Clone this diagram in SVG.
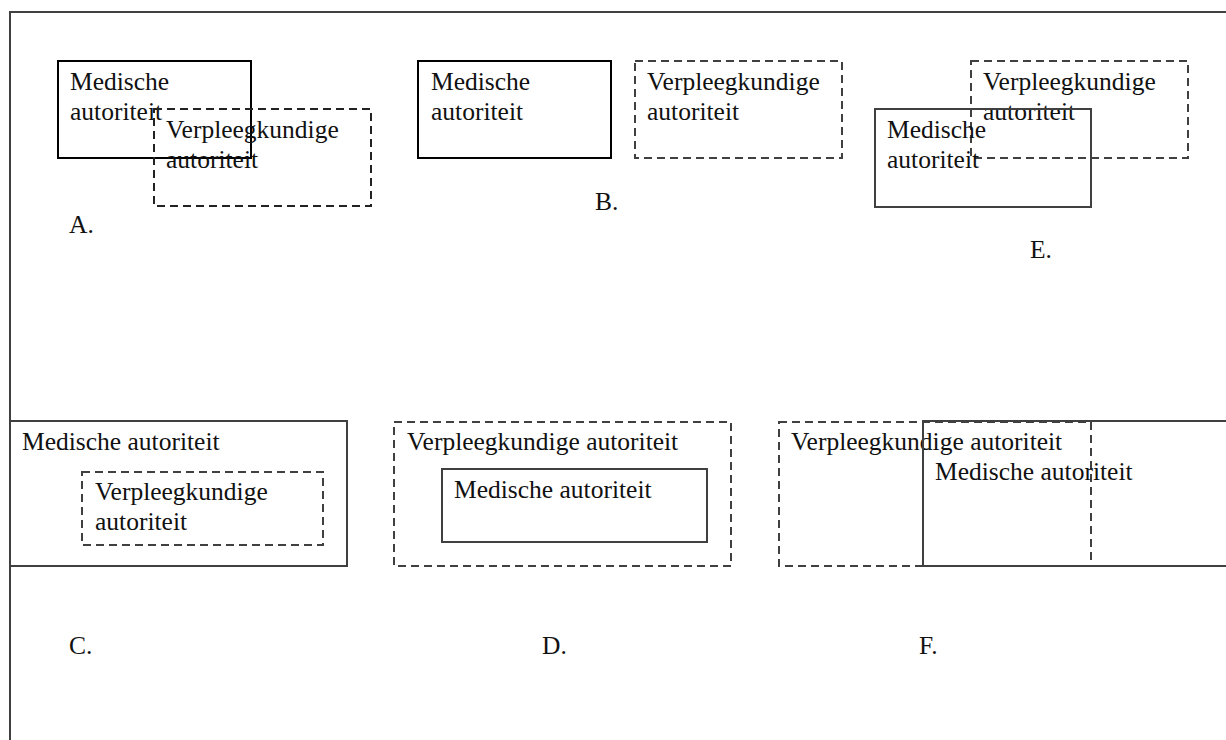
<svg xmlns="http://www.w3.org/2000/svg" width="1226" height="740" viewBox="0 0 1226 740">
<style>
text{font-family:"Liberation Serif","Times New Roman",serif;font-size:25.5px;fill:#111}
.solid{fill:none;stroke:#000;stroke-width:2}
.solidg{fill:none;stroke:#404040;stroke-width:2}
.dash{fill:none;stroke:#222;stroke-width:2;stroke-dasharray:8 5}
.dashg{fill:none;stroke:#404040;stroke-width:2;stroke-dasharray:8 5}
.frame{fill:none;stroke:#404040;stroke-width:2}
</style>
<rect width="1226" height="740" fill="#fff"/>
<path class="frame" d="M10 740 V12 H1226"/>
<g id="diagram-A">
<g id="A-medisch"><rect class="solid" x="58" y="61" width="193" height="97"/><text x="70" y="90">Medische</text><text x="70" y="120">autoriteit</text></g>
<g id="A-verpleeg"><rect class="dash" x="154" y="109" width="217" height="97"/><text x="166" y="138">Verpleegkundige</text><text x="166" y="168">autoriteit</text></g>
<text x="69" y="233">A.</text>
</g>
<g id="diagram-B">
<g id="B-medisch"><rect class="solid" x="418" y="61" width="193" height="97"/><text x="431" y="90">Medische</text><text x="431" y="120">autoriteit</text></g>
<g id="B-verpleeg"><rect class="dashg" x="635" y="61" width="207" height="97"/><text x="647" y="90">Verpleegkundige</text><text x="647" y="120">autoriteit</text></g>
<text x="595" y="210">B.</text>
</g>
<g id="diagram-E">
<g id="E-verpleeg"><rect class="dashg" x="971" y="61" width="217" height="97"/><text x="983" y="90">Verpleegkundige</text><text x="983" y="120">autoriteit</text></g>
<g id="E-medisch"><rect class="solidg" x="875" y="109" width="216" height="98"/><text x="887" y="138">Medische</text><text x="887" y="168">autoriteit</text></g>
<text x="1030" y="258">E.</text>
</g>
<g id="diagram-C">
<g id="C-medisch"><rect class="solidg" x="10" y="421" width="337" height="145"/><text x="22" y="450">Medische autoriteit</text></g>
<g id="C-verpleeg"><rect class="dashg" x="82" y="472" width="241" height="73"/><text x="95" y="500">Verpleegkundige</text><text x="95" y="530">autoriteit</text></g>
<text x="69" y="654">C.</text>
</g>
<g id="diagram-D">
<g id="D-verpleeg"><rect class="dashg" x="394" y="422" width="337" height="144"/><text x="407" y="450">Verpleegkundige autoriteit</text></g>
<g id="D-medisch"><rect class="solidg" x="442" y="469" width="265" height="73"/><text x="454" y="498">Medische autoriteit</text></g>
<text x="542" y="654">D.</text>
</g>
<g id="diagram-F">
<g id="F-verpleeg"><rect class="dashg" x="779" y="422" width="312" height="144"/><text x="791" y="450">Verpleegkundige autoriteit</text></g>
<g id="F-medisch"><rect class="solidg" x="923" y="421" width="320" height="145"/><text x="935" y="480">Medische autoriteit</text></g>
<text x="919" y="654">F.</text>
</g>
<g id="connectors"></g>
</svg>
